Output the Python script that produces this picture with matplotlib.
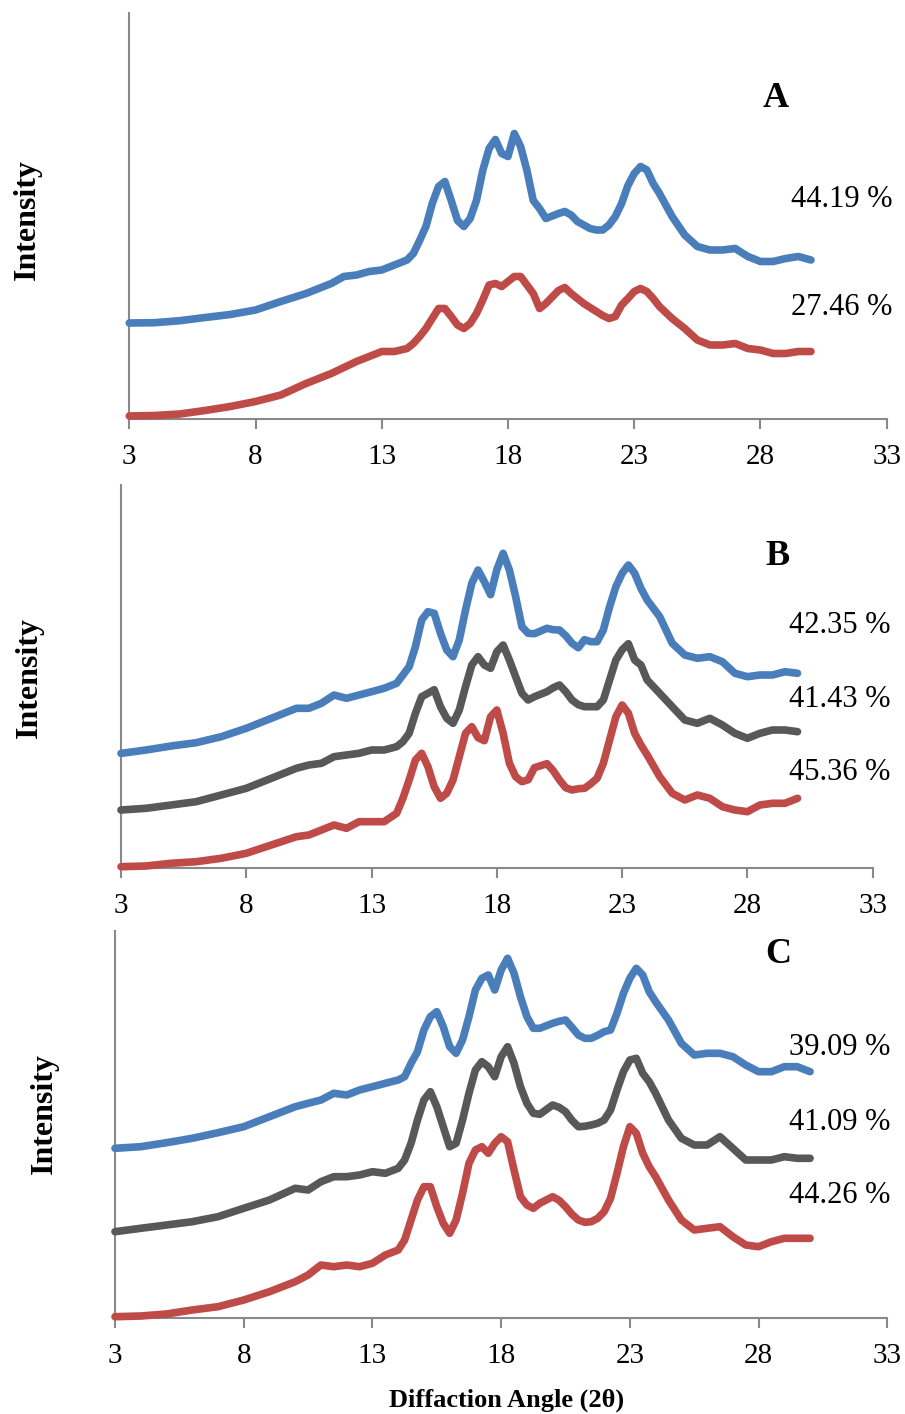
import matplotlib.pyplot as plt

plt.rcParams['font.family'] = ['Liberation Serif', 'DejaVu Serif']

# diffraction angle grid (2 theta, degrees)
two_theta = [3, 4, 5, 6, 7, 8, 9, 10,
             10.5, 11, 11.5, 12, 12.5, 13, 13.5, 14,
             14.25, 14.5, 14.75, 15, 15.25, 15.5, 15.75, 16, 16.25, 16.5, 16.75,
             17, 17.25, 17.5, 17.75, 18, 18.25, 18.5, 18.75, 19, 19.25, 19.5,
             20, 20.25, 20.5, 20.75, 21, 21.25, 21.5, 21.75, 22, 22.25, 22.5,
             22.75, 23, 23.25, 23.5, 23.75, 24,
             24.5, 25, 25.5, 26, 26.5, 27, 27.5, 28, 28.5, 29, 29.5, 30]

# panel A (arbitrary intensity units)
a_blue = [95.5, 95.8, 97.8, 101, 104, 108.5, 117, 125,
          130, 135, 142, 143.5, 147, 148.5, 153.5, 158.5,
          165, 178, 192, 215, 232, 237, 218, 198, 192, 200, 218,
          248, 270, 279, 265, 262, 285, 272, 248, 218, 210, 200,
          205, 207, 203.5, 197, 193.5, 190, 188.5, 188.5, 193.5, 202, 215,
          233, 245, 252, 248.5, 235, 225,
          202, 183.5, 172, 168.5, 168.5, 170, 162, 157, 157, 160, 162, 158.5]
a_red = [2.5, 3, 4.5, 8, 12, 17, 23.5, 35,
         40, 45, 51, 57, 62, 67, 67, 70,
         75, 82, 90, 100, 110, 110, 102, 93.5, 90, 95, 105,
         118.5, 133.5, 135, 132, 137, 142, 142, 133.5, 125, 110, 115,
         128, 131, 125, 120, 115, 111, 107, 103, 100, 102, 113.5,
         120, 127, 130, 127, 120, 112,
         100, 90, 78.5, 73.5, 73.5, 75, 70, 68.5, 65, 65, 67, 67]

# panel B
b_blue = [114.3, 117.7, 121.7, 125, 131, 139.4, 149.4, 159.4,
          159.4, 164.4, 172.7, 169.4, 172.7, 176, 179.4, 184.4,
          192.7, 201, 221, 247.7, 256, 254.4, 234.4, 217.7, 211, 227.7, 257.7,
          284.4, 297.7, 286, 273, 298, 314.4, 297.7, 271, 241, 234.4, 234,
          239.4, 238, 237.7, 232, 224.4, 220, 228, 226, 226, 237.7, 261,
          281, 294.4, 302.7, 294.4, 279.4, 267.7,
          251, 224.4, 212.7, 209.4, 211, 206, 194.4, 191, 192.7, 192.7, 196, 194.4]
b_gray = [57.7, 59.4, 62.7, 66, 72.7, 79.4, 89.4, 99.4,
          102.7, 104.4, 111, 112.7, 114.4, 117.7, 117.7, 121,
          126, 134.4, 154.4, 171, 174.4, 178, 161, 149.4, 144.4, 157.7, 181,
          202.7, 211, 202.7, 199.4, 216, 222.7, 207.7, 191, 174.4, 167.7, 171,
          176, 180, 182.7, 176, 167.7, 163, 161, 161, 161, 167.7, 187.7,
          207.7, 218, 224, 207.7, 202.7, 187.7,
          174.4, 161, 147.7, 144.4, 149.4, 142.7, 134.4, 129.4, 134.4, 137.7, 137.7, 136]
b_red = [1, 1.7, 4.4, 6, 9.4, 14.4, 22.7, 31,
         32.7, 37.7, 42.7, 39.4, 46, 46, 46, 54.4,
         69.4, 87.7, 107.7, 114.4, 101, 81, 69.4, 74.4, 87.7, 111, 134.4,
         141, 130, 127, 151, 157.7, 134.4, 104.4, 91, 86, 88, 100,
         104, 97, 87.7, 80, 77.7, 79, 79.4, 84, 89.4, 104.4, 127.7,
         151, 162.7, 154.4, 134.4, 122.7, 112.7,
         91, 74.4, 67.7, 72.7, 69.4, 61, 57.7, 56, 62.7, 64.4, 64.4, 69.4]

# panel C
c_blue = [170, 171.6, 175.6, 180, 185.6, 191.6, 201.6, 211.6,
          215, 218.3, 225, 223.3, 228.3, 231.6, 235, 238.3,
          241.6, 255, 266.6, 288.3, 301.6, 306.6, 291.6, 271.6, 265, 278.3, 301.6,
          328.3, 340, 343.3, 328.3, 348.3, 360, 345, 321.6, 301.6, 290, 290,
          295, 297, 298.3, 291, 283.3, 280, 280, 283, 286.6, 288.3, 305,
          325, 340, 350, 343.3, 326.6, 316.6,
          298.3, 275, 263.3, 265, 265, 261.6, 253.3, 246.6, 246.6, 251.6, 251.6, 246.6]
c_gray = [86.6, 90, 93.3, 96.6, 101.6, 110, 118.3, 130,
          128.3, 136.6, 141.6, 141.6, 143.3, 146.6, 145, 150,
          158.3, 175, 198.3, 218.3, 226.6, 211.6, 191.6, 171.6, 175, 198.3, 225,
          248.3, 256.6, 251.6, 241.6, 261.6, 271.6, 255, 231.6, 215, 205, 204,
          213.3, 211, 206.6, 198, 191.6, 192, 193.3, 195, 198.3, 208.3, 228.3,
          246.6, 258.3, 260, 245, 236.6, 225,
          198.3, 180, 173.3, 173.3, 181.6, 170, 158.3, 158.3, 158.3, 161.6, 160, 160]
c_red = [1.6, 2.3, 4.3, 8.3, 11.6, 18.3, 26.6, 36.6,
         43.3, 53.3, 51.6, 53.3, 51.6, 55, 63.3, 68.3,
         78.3, 98.3, 118.3, 131.6, 131.6, 111.6, 95, 85, 98.3, 125, 155,
         168.3, 171.6, 165, 175, 181.6, 176.6, 148.3, 121.6, 113.3, 110, 115,
         121.6, 118, 111.6, 104, 98.3, 96, 96.6, 100, 106.6, 120, 145,
         171.6, 191.6, 185, 165, 151.6, 141.6,
         118.3, 98.3, 88.3, 90, 91.6, 81.6, 73.3, 71.6, 76.6, 80, 80, 80]

x_ticks = [3, 8, 13, 18, 23, 28, 33]
labels_a = ['44.19 %', '27.46 %']
labels_b = ['42.35 %', '41.43 %', '45.36 %']
labels_c = ['39.09 %', '41.09 %', '44.26 %']

BLUE = '#4a7ebb'
GRAY = '#585858'
RED = '#be4b48'
AXIS = '#898989'

W, H = 905, 1414
fig = plt.figure(figsize=(W / 100, H / 100), dpi=100)


def fx(x):
    return x / W


def fy(y):
    return 1 - y / H


panels = [
    {'box': (129.3, 13, 886.7, 418.5), 'series': [a_blue, a_red], 'colors': [BLUE, RED],
     'letter': 'A', 'letter_xy': (776, 107), 'labels': labels_a, 'label_x': 892,
     'label_y': [207, 315], 'ylabel_xy': (27, 219)},
    {'box': (121, 485, 872.7, 867.7), 'series': [b_blue, b_gray, b_red], 'colors': [BLUE, GRAY, RED],
     'letter': 'B', 'letter_xy': (777, 565), 'labels': labels_b, 'label_x': 890,
     'label_y': [633, 707, 780], 'ylabel_xy': (29, 677)},
    {'box': (115, 930.7, 887.3, 1318.3), 'series': [c_blue, c_gray, c_red], 'colors': [BLUE, GRAY, RED],
     'letter': 'C', 'letter_xy': (778, 963), 'labels': labels_c, 'label_x': 890,
     'label_y': [1055, 1130, 1203], 'ylabel_xy': (44, 1113)},
]

for p in panels:
    left, top, right, bottom = p['box']
    ax = fig.add_axes([fx(left), fy(bottom), (right - left) / W, (bottom - top) / H])
    for ys, c in zip(p['series'], p['colors']):
        ax.plot(two_theta, ys, color=c, lw=5.5, solid_capstyle='round',
                solid_joinstyle='round', clip_on=False, zorder=3)
    ax.set_xlim(3, 33)
    ax.set_ylim(0, bottom - top)
    ax.set_xticks(x_ticks)
    ax.set_yticks([])
    for s in ['top', 'right']:
        ax.spines[s].set_visible(False)
    for s in ['left', 'bottom']:
        ax.spines[s].set_color(AXIS)
        ax.spines[s].set_linewidth(1.5)
    ax.tick_params(axis='x', direction='out', length=7, width=1.5, color=AXIS,
                   labelsize=21, pad=11, labelcolor='black')

    lx, ly = p['letter_xy']
    fig.text(fx(lx), fy(ly), p['letter'], fontsize=26, fontweight='bold',
             ha='center', va='baseline')
    for txt, y in zip(p['labels'], p['label_y']):
        fig.text(fx(p['label_x']), fy(y), txt, fontsize=22, ha='right', va='baseline')
    yx, yy = p['ylabel_xy']
    fig.text(fx(yx), fy(yy), 'Intensity', fontsize=23, fontweight='bold',
             rotation=90, ha='center', va='center')

fig.text(fx(507), fy(1400), 'Diffaction Angle (2θ)', fontsize=19, fontweight='bold',
         ha='center', va='center')

fig.savefig('out.png', dpi=100)
